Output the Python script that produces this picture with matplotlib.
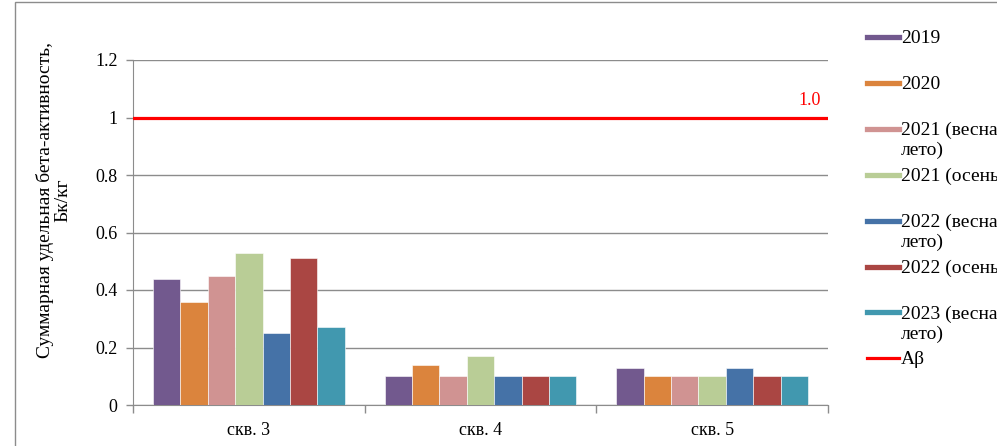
import numpy as np
import matplotlib.pyplot as plt
from matplotlib.patches import Rectangle
from matplotlib.lines import Line2D

categories = ['скв. 3', 'скв. 4', 'скв. 5']
series_labels = ['2019', '2020', '2021 (весна-\nлето)', '2021 (осень)',
                 '2022 (весна-\nлето)', '2022 (осень)', '2023 (весна-\nлето)']
series_values = [
    [0.44, 0.10, 0.13],
    [0.36, 0.14, 0.10],
    [0.45, 0.10, 0.10],
    [0.53, 0.17, 0.10],
    [0.25, 0.10, 0.13],
    [0.51, 0.10, 0.10],
    [0.27, 0.10, 0.10],
]
colors = ['#72598E', '#DB843D', '#D09392', '#B9CD96', '#4572A7', '#AA4643', '#4198AF']
limit_value = 1.0
limit_label = 'Aβ'
y_ticks = [0, 0.2, 0.4, 0.6, 0.8, 1, 1.2]
y_tick_labels = ['0', '0.2', '0.4', '0.6', '0.8', '1', '1.2']

plt.rcParams['font.family'] = ['Liberation Serif', 'DejaVu Serif']
plt.rcParams['font.size'] = 13

fig = plt.figure(figsize=(9.97, 4.46), dpi=100)
W, H = 997, 446

# outer frame of the chart area
fig.patches.append(Rectangle((15 / W, -0.05), 1.0, (444 / H) + 0.05,
                             transform=fig.transFigure, fill=False,
                             edgecolor='#8c8c8c', linewidth=1))

ax = fig.add_axes([133 / W, 1 - 405 / H, (828 - 133) / W, (405 - 60) / H])

x = np.arange(len(categories))
n = len(series_values)
bar_w = 0.118
offsets = (np.arange(n) - (n - 1) / 2) * bar_w
for i in range(n):
    ax.bar(x + offsets[i], series_values[i], width=bar_w, color=colors[i],
           edgecolor='white', linewidth=0.4, zorder=3)

ax.axhline(limit_value, color='#FF0000', linewidth=2.3, zorder=4)
ax.text(0.974, 1.06, '1.0', color='#FF0000', fontsize=13,
        transform=ax.get_yaxis_transform(), ha='center', va='center')

ax.set_xlim(-0.5, len(categories) - 0.5)
ax.set_ylim(0, 1.2)
ax.set_yticks(y_ticks)
ax.set_yticklabels(y_tick_labels)
ax.yaxis.grid(True, color='#8c8c8c', linewidth=1, zorder=0)
ax.set_axisbelow(True)

ax.set_xticks(x)
ax.set_xticklabels(categories)
ax.tick_params(axis='x', length=0, pad=12)
ax.set_xticks(np.arange(len(categories) + 1) - 0.5, minor=True)
ax.tick_params(axis='x', which='minor', length=6, color='#8c8c8c', width=1)
ax.tick_params(axis='y', length=5, color='#8c8c8c', width=1, pad=6)

for s in ['top', 'right']:
    ax.spines[s].set_visible(False)
for s in ['left', 'bottom']:
    ax.spines[s].set_color('#8c8c8c')

fig.text(54 / W, 1 - 200 / H, 'Суммарная удельная бета-активность,\nБк/кг',
         rotation=90, ha='center', va='center', multialignment='center',
         linespacing=1.05, fontsize=14)

# legend, drawn by hand; the original is cropped at the right edge
y0, step = 37, 45.9
all_labels = series_labels + [limit_label]
for i, lab in enumerate(all_labels):
    yc = y0 + step * i
    if i < n:
        fig.add_artist(Line2D([867 / W, 899 / W], [1 - yc / H, 1 - yc / H],
                              color=colors[i], linewidth=3.8,
                              transform=fig.transFigure))
    else:
        fig.add_artist(Line2D([867 / W, 899 / W], [1 - yc / H, 1 - yc / H],
                              color='#FF0000', linewidth=2.3,
                              transform=fig.transFigure))
    fig.text(901 / W, 1 - (yc - 7) / H, lab, ha='left', va='top',
             linespacing=1.2, fontsize=14)

fig.savefig('out.png', dpi=100)
